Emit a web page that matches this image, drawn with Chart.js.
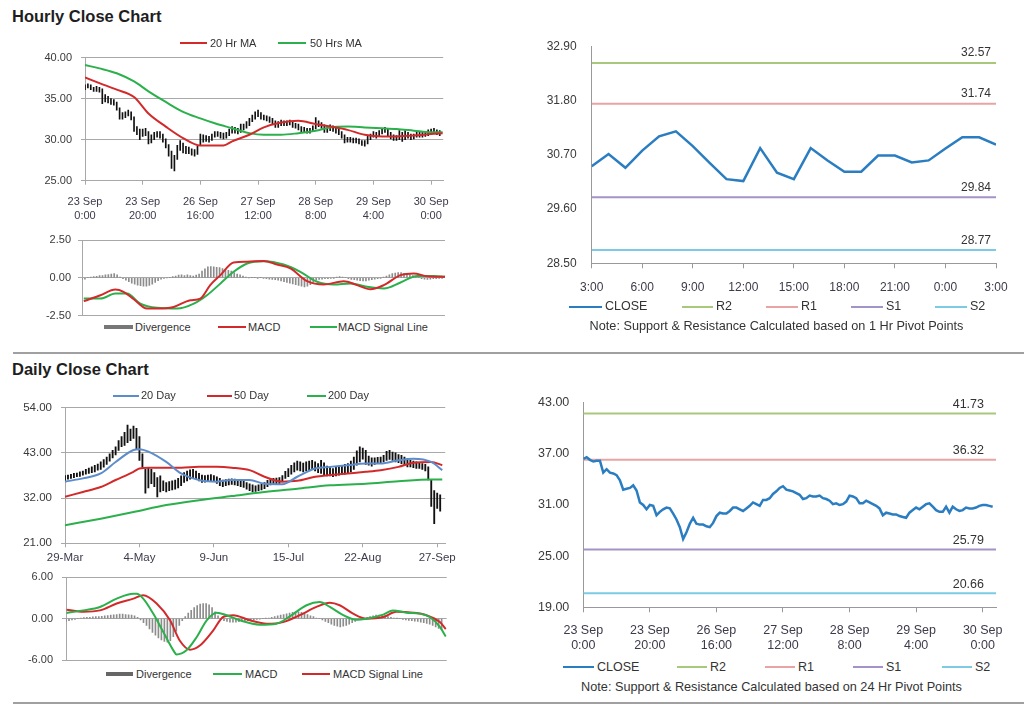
<!DOCTYPE html>
<html><head><meta charset="utf-8">
<script src="https://cdn.jsdelivr.net/npm/chart.js@4.4.0/dist/chart.umd.min.js"></script>
<style>
body{margin:0;background:#fff;width:1024px;height:706px;position:relative;overflow:hidden;font-family:"Liberation Sans",Arial,sans-serif;color:#333}
canvas{position:absolute}
.title{position:absolute;left:12px;font-weight:bold;font-size:16.5px;line-height:20px;color:#1e1e1e;white-space:nowrap}
.sep{position:absolute;left:13px;width:1011px;height:2px;background:#a0a0a0}
.lt{position:absolute;white-space:nowrap;color:#333}
.note{position:absolute;white-space:nowrap;color:#333;font-size:12.7px;line-height:14px;transform:translateX(-50%)}
</style></head><body>
<div class="title" style="top:6px">Hourly Close Chart</div>
<div class="sep" style="top:352px"></div>
<div class="title" style="top:359px">Daily Close Chart</div>
<div class="sep" style="top:702px"></div>
<script>
// ---------- DATA ----------
const hourTickValues = [0,20,40,60,80,100,120];
const hourTickLabels = [["23 Sep","0:00"],["23 Sep","20:00"],["26 Sep","16:00"],["27 Sep","12:00"],["28 Sep","8:00"],["29 Sep","4:00"],["30 Sep","0:00"]];

const hourlyClose = [36.4,36.6,36.3,36.1,36.2,36.2,34.8,35.2,34.8,34.7, 34.5,33.9,32.8,32.9,33.0,33.3,32.7,31.3,31.0,30.5, 31.0,30.9,29.8,30.2,30.5,30.7,30.6,30.0,29.3,28.4, 27.0,27.8,28.8,29.5,28.8,28.7,28.7,28.5,28.4,28.9, 29.7,30.1,30.0,30.0,30.3,30.7,30.7,30.5,30.3,30.6, 30.9,31.3,31.1,30.9,31.6,31.6,31.8,32.3,32.6,33.0, 33.2,32.8,32.7,32.6,32.4,32.2,31.7,31.8,32.1,32.0, 32.0,32.1,31.8,31.7,31.5,31.1,31.2,31.0,31.1,31.4, 32.1,32.0,31.8,31.2,31.2,31.5,31.3,31.1,30.9,30.6, 29.8,30.1,30.0,29.9,29.9,29.7,29.6,29.5,30.1,30.4, 30.7,30.5,30.8,31.1,31.2,30.8,30.4,30.2,30.2,30.8, 30.1,30.8,30.5,30.3,30.4,30.7,30.6,30.6,30.7,30.9, 31.0,31.0,30.9,30.8];
const hourlyHigh = [36.7,36.8,36.7,36.4,36.5,36.4,36.2,35.5,35.3,35.0, 34.9,34.6,33.9,33.3,33.4,33.6,33.4,32.8,31.6,31.3, 31.3,31.4,31.0,30.6,30.9,31.0,31.0,30.7,30.1,29.4, 28.6,28.1,29.3,29.9,29.6,29.2,29.1,28.9,28.8,29.2, 30.7,30.6,30.5,30.4,30.7,31.0,31.0,30.9,30.8,30.9, 31.3,31.6,31.5,31.4,31.9,31.9,32.2,32.6,33.0,33.4, 33.6,33.3,33.0,32.9,32.8,32.6,32.3,32.2,32.4,32.3, 32.3,32.4,32.2,32.0,31.9,31.6,31.5,31.4,31.4,31.7, 32.7,32.3,32.1,31.8,31.6,31.8,31.7,31.5,31.3,31.0, 30.6,30.3,30.3,30.2,30.2,30.1,29.9,29.9,30.4,30.7, 31.0,30.9,31.1,31.4,31.5,31.3,30.9,30.6,30.5,31.1, 30.9,31.1,30.9,30.7,30.7,31.0,30.9,30.9,31.0,31.2, 31.3,31.4,31.2,31.1];
const hourlyLow = [36.1,36.3,36.1,35.9,35.9,35.8,34.4,34.6,34.5,34.3, 34.2,33.6,32.5,32.5,32.7,32.9,32.4,31.0,30.6,30.0, 30.4,30.5,29.5,29.6,30.0,30.3,30.2,29.7,29.0,28.0, 26.5,26.2,27.6,28.7,28.4,28.3,28.3,28.1,28.0,28.2, 29.3,29.7,29.8,29.7,29.9,30.3,30.4,30.2,30.1,30.2, 30.5,30.8,30.8,30.7,30.9,31.2,31.4,31.7,32.2,32.5, 32.8,32.5,32.4,32.3,32.1,31.9,31.5,31.5,31.7,31.7, 31.7,31.8,31.5,31.4,31.2,30.9,30.9,30.8,30.8,31.0, 31.3,31.6,31.4,30.9,30.9,31.1,31.0,30.8,30.6,30.2, 29.6,29.7,29.7,29.6,29.6,29.5,29.3,29.2,29.5,30.0, 30.3,30.2,30.4,30.7,30.9,30.5,30.1,29.9,29.9,30.0, 29.8,30.0,30.2,30.0,30.1,30.3,30.3,30.3,30.4,30.5, 30.7,30.8,30.6,30.5];
const ma20Hr = [[0,37.6],[5,36.9],[11,36.1],[17,35.2],[22,33.2],[28,31.6],[34,30.2],[40,29.3],[48,29.3],[51,29.8],[57,30.6],[62,31.5],[68,32.1],[74,32.3],[80,31.9],[85,31.6],[91,31.2],[97,30.6],[103,30.4],[108,30.4],[114,30.5],[120,30.7],[124,30.8]];
const ma50Hr = [[0,39.1],[5,38.7],[11,38.1],[17,37.1],[22,35.9],[28,34.6],[34,33.4],[40,32.6],[45,32.0],[51,31.4],[57,30.8],[62,30.6],[68,30.6],[74,30.8],[80,31.1],[85,31.5],[91,31.6],[97,31.5],[103,31.4],[108,31.3],[114,31.1],[120,30.9],[124,30.9]];

const hourMacd = [[0.6,-1.54],[6.3,-1.15],[11.4,-0.77],[14.2,-0.92],[17.7,-1.41],[22.2,-2.03],[25.6,-2.03],[31.3,-1.92],[37,-1.48],[40.4,-1.37],[43.8,-0.48],[47.3,0.18],[51.8,1.01],[56.4,1.06],[62.1,1.12],[66.6,0.88],[71.2,0.62],[76.9,-0.22],[82.6,-0.44],[89.4,-0.22],[94,-0.48],[98.5,-0.75],[103.1,-0.48],[108.8,0.18],[113.3,0.29],[117.9,0.11],[124,0.07]];
const hourSignal = [[0.6,-1.37],[6.3,-1.37],[11.4,-1.04],[15.4,-1.04],[19.9,-1.7],[25.6,-1.98],[32.5,-2.03],[38.2,-1.7],[42.7,-1.15],[47.3,-0.37],[51.8,0.4],[56.4,0.95],[62.1,1.1],[68.9,0.88],[74.6,0.4],[80.3,-0.26],[86,-0.44],[91.7,-0.37],[97.4,-0.59],[103.1,-0.70],[108.8,-0.31],[114.5,0.13],[120.2,0.13],[124,0.07]];
const hourDiv = [-0.10,-0.08,0.03,0.05,0.08, 0.10,0.15,0.15,0.20,0.22,0.25,0.28,0.20, 0.05,-0.05, -0.15,-0.25,-0.35,-0.42,-0.48,-0.52,-0.55,-0.55,-0.50,-0.42,-0.30,-0.18,-0.08, -0.03,0.00,0.02, 0.08,0.12,0.18,0.20,0.15,0.20,0.15,0.12,0.18,0.25, 0.45,0.60,0.72,0.75,0.72,0.70,0.68,0.62,0.55,0.50,0.45,0.35,0.25,0.20, 0.12,0.05,0.00,0.02, 0.02,-0.02,0.02,-0.03, -0.05,-0.08,-0.10,-0.12,-0.15,-0.20,-0.25,-0.30,-0.35,-0.40,-0.45,-0.50,-0.55,-0.60,-0.55,-0.45, -0.30,-0.15,-0.10,-0.08,-0.05,-0.05,-0.03,-0.02,0.05,0.08,0.05,0.03, -0.05,-0.10,-0.12,-0.15,-0.18,-0.20,-0.20,-0.15,-0.12,-0.08,-0.05,-0.02,0.05, 0.12,0.20,0.28,0.32,0.35,0.35,0.30,0.25,0.20,0.15, 0.08,0.03,-0.05,-0.08,-0.10,-0.08,-0.05,-0.05,-0.03,-0.02];

const pivotHourTicks = [0,3,6,9,12,15,18,21,24];
const pivotHourLabels = ["3:00","6:00","9:00","12:00","15:00","18:00","21:00","0:00","3:00"];
const pivotHourClose = [30.47,30.72,30.44,30.79,31.08,31.18,30.88,30.54,30.21,30.17,30.84,30.34,30.21,30.84,30.59,30.36,30.36,30.69,30.69,30.55,30.59,30.83,31.06,31.06,30.91];
const pivotHourLevels = {R2:32.57, R1:31.74, S1:29.84, S2:28.77};
const pivotHourYTicks = [28.5,29.6,30.7,31.8,32.9];

const dayTickValues = [0,25,50,75,100,125];
const dayTickLabels = ["29-Mar","4-May","9-Jun","15-Jul","22-Aug","27-Sep"];
const dailyLow = [36.3,36.6,36.8,37.0,37.2,37.3,37.6,37.8,38.0,38.2, 38.4,38.8,39.0,39.5,40.2,41.0,41.8,42.5,43.6,44.5, 44.8,45.5,46.0,46.5,44.0,41.2,39.5,33.2,34.5,35.5, 34.8,32.3,33.5,33.8,33.5,33.8,34.0,34.2,34.5,35.0, 35.8,36.2,36.6,36.8,36.5,36.2,35.8,35.9,36.0,36.2, 36.0,35.6,35.0,34.8,35.0,35.2,35.3,35.2,35.0,34.8, 34.6,34.2,33.8,33.5,33.6,33.8,34.0,34.3,34.8,35.2, 35.4,35.3,35.5,36.0,36.8,37.2,37.8,38.4,38.8,38.6, 38.4,38.6,38.8,39.0,38.6,38.2,38.0,37.6,37.4,37.4, 37.2,37.4,37.6,37.8,37.8,38.0,38.4,39.0,40.0,40.8, 41.5,40.2,40.0,39.8,40.2,40.4,40.6,40.8,41.2,41.4, 41.2,40.8,40.6,40.4,40.0,39.6,39.6,39.4,39.2,39.2, 39.0,38.6,36.4,30.0,25.8,29.5,28.8];
const dailyHigh = [37.5,37.6,37.8,38.0,38.1,38.4,38.6,39.0,39.3,39.6, 40.0,40.3,40.8,41.4,42.0,42.8,43.6,44.5,46.0,47.0, 48.0,49.8,48.8,49.5,49.0,47.0,42.8,39.0,39.4,39.0, 38.2,37.0,37.4,36.2,35.8,36.0,36.2,36.4,36.8,37.4, 38.2,38.6,38.9,39.0,38.6,38.0,37.6,37.5,37.6,37.7, 37.5,37.2,36.8,36.4,36.5,36.6,36.7,36.6,36.4,36.3, 36.2,35.8,35.5,35.2,35.0,35.2,35.4,35.8,36.3,36.6, 36.8,36.9,37.0,37.5,38.5,39.2,40.0,40.6,41.0,40.8, 40.5,40.8,41.0,41.2,40.8,40.4,41.2,40.6,39.8,39.4, 39.2,39.6,39.8,40.0,40.2,40.4,41.0,42.0,43.5,44.5, 44.2,43.6,42.2,41.8,41.8,41.9,42.0,42.4,43.4,43.6, 43.2,43.0,42.6,42.4,42.0,41.6,41.2,41.0,40.8,40.6, 40.4,40.2,39.6,36.5,33.8,33.2,32.8];
const ma20Day = [[0,36],[6,36.8],[12,38],[17,40.8],[23,43.7],[25,43.9],[28,43.3],[34,40.8],[39,38],[45,36.4],[51,36],[56,36.4],[62,36.4],[67,35.5],[73,35.4],[78,37.2],[84,39.2],[89,39.6],[95,40],[101,40.4],[106,40.4],[112,41.2],[117,41.6],[123,40.8],[126.7,38.8]];
const ma50Day = [[0,32.3],[6,33.5],[12,34.7],[17,36.4],[23,38.4],[25,39.2],[28,39.4],[34,39.4],[39,39.4],[45,39.6],[51,39.6],[56,39.4],[62,38.8],[67,37.2],[73,36],[78,36.2],[84,37.2],[89,37.6],[95,38],[101,38.4],[106,38.8],[112,39.6],[117,40.6],[123,40.8],[126.7,40]];
const ma200Day = [[0,25.4],[12,27],[23,28.6],[34,30.3],[45,31.5],[56,32.5],[67,33.5],[78,34.3],[89,35.1],[101,35.5],[112,36.1],[123,36.5],[126.7,36.5]];

const dayMacd = [[0.2,0.83],[5.8,1.2],[11.4,1.7],[17,2.9],[22.6,3.6],[23.7,3.6],[25.9,2.9],[29.3,0.7],[32.6,-1.9],[36,-4.6],[37.1,-5.2],[40.4,-4.6],[43.8,-2.7],[47.2,-0.24],[50.5,0.87],[53.9,0.5],[58.3,-0.24],[65,-0.87],[70.6,-0.73],[75.1,0.34],[80.7,1.94],[85.1,2.4],[88.5,1.7],[93,0.5],[97.4,-0.15],[100.8,0],[106.4,0.58],[109.7,1.2],[114.2,0.87],[118.7,0.73],[122,0.24],[125.4,-1.2],[127.4,-2.6]];
const daySignal = [[0.2,1.3],[5.8,1.0],[11.4,1.2],[17,2.2],[22.6,2.9],[25.9,3.4],[30.4,2.2],[34.9,-0.24],[38.2,-3.2],[41.6,-4.5],[44.9,-3.9],[49.4,-1.7],[52.7,0.24],[56.1,0.5],[61.7,-0.24],[67.3,-0.73],[72.8,-0.5],[78.4,0.5],[84,1.7],[88.5,2.3],[91.8,1.94],[96.3,0.73],[100.8,0],[106.4,0.24],[110.8,1.0],[116.4,0.87],[120.9,0.5],[125.4,-0.5],[127.4,-1.5]];
const dayDiv = [-0.4,-0.3,-0.2,-0.1,0.0, 0.1,0.15,0.2,0.2,0.25,0.3,0.3,0.35,0.4,0.45,0.5,0.55,0.6,0.65,0.65,0.6,0.55,0.5,0.4,0.2, -0.2,-0.6,-1.0,-1.5,-2.0,-2.4,-2.8,-3.1,-3.3,-3.4,-3.2,-2.6,-1.8,-1.0,-0.3,0.3, 0.8,1.2,1.6,1.9,2.1,2.2,2.2,2.0,1.6,1.0,0.4, -0.1,-0.3,-0.4,-0.5,-0.5,-0.5,-0.45,-0.4,-0.35,-0.3,-0.25,-0.2,-0.1,-0.05,0.0,0.05,0.1,0.2,0.3,0.4, 0.5,0.6,0.7,0.8,0.9,1.0,1.0,0.9,0.8,0.6,0.4,0.3,0.1,0.0, -0.2,-0.4,-0.6,-0.8,-1.0,-1.1,-1.2,-1.1,-1.0,-0.8,-0.6,-0.4,-0.2,-0.1, 0.1,0.2,0.3,0.4,0.5,0.5,0.5,0.4,0.3,0.2,0.1,0.05,0.0, -0.1,-0.2,-0.25,-0.3,-0.35,-0.4,-0.5,-0.6,-0.7,-0.8,-1.0,-1.2,-1.4,-1.6];

const pivotDayLevels = {R2:41.73, R1:36.32, S1:25.79, S2:20.66};
const pivotDayYTicks = [19,25,31,37,43];

// ---------- STYLE ----------
const RED='#d22a2a', GREEN='#2bb04c', BLUE20='#5c8ccc', CLOSEBLUE='#2a7dc0', GRAY='#8c8c8c', GRID='#a8a8a8';
const LVL={R2:'#a8c87c', R1:'#e8a4a4', S1:'#a493c6', S2:'#7ccae4'};
Chart.defaults.font.family='"Liberation Sans", Arial, sans-serif';
Chart.defaults.color='#3a3a3a';

const fixedTicks = vals => s => { s.ticks = vals.map(v=>({value:v})); };
const pts = arr => arr.map(p=>({x:p[0],y:p[1]}));
const seq = arr => arr.map((v,i)=>({x:i,y:v}));
const lineDs = (data,color,w) => ({type:'line',data,borderColor:color,borderWidth:w||2,pointRadius:0,cubicInterpolationMode:'monotone',fill:false});

const levelLabels = {id:'levelLabels', afterDatasetsDraw(chart,args,o){
  if(!o||!o.items) return; const {ctx,chartArea}=chart, y=chart.scales.y;
  ctx.save(); ctx.font=o.font; ctx.fillStyle='#333'; ctx.textAlign='right'; ctx.textBaseline='alphabetic';
  o.items.forEach(v=>ctx.fillText(v.toFixed(2), chartArea.right-o.dx, y.getPixelForValue(v)-o.dy));
  ctx.restore();
}};

function make(left,top,w,h,cfg){
  const c=document.createElement('canvas'); c.width=w; c.height=h;
  c.style.left=left+'px'; c.style.top=top+'px'; c.style.width=w+'px'; c.style.height=h+'px';
  document.body.appendChild(c);
  cfg.options.responsive=false; cfg.options.animation=false; cfg.options.devicePixelRatio=1;
  cfg.options.plugins=Object.assign({legend:{display:false},tooltip:{enabled:false}},cfg.options.plugins||{});
  return new Chart(c,cfg);
}
function legend(y,fs,items){
  items.forEach(it=>{
    const ln=document.createElement('div');
    ln.style.cssText=`position:absolute;left:${it[0]}px;top:${Math.round(y-it[3]/2)}px;width:${it[1]}px;height:${it[3]}px;background:${it[2]}`;
    document.body.appendChild(ln);
    const tx=document.createElement('div'); tx.className='lt';
    const L=Math.round(fs*1.2);
    tx.style.cssText=`left:${it[4]}px;top:${y-L/2}px;font-size:${fs}px;line-height:${L}px`;
    tx.textContent=it[5]; document.body.appendChild(tx);
  });
}
function note(x,y,text){const d=document.createElement('div');d.className='note';d.style.left=x+'px';d.style.top=(y-7)+'px';d.textContent=text;document.body.appendChild(d);}

const yAxis = (min,max,ticks,width,pad,fs,gridOn) => ({min,max,
  afterFit:s=>{s.width=width; s.paddingTop=0; s.paddingBottom=0;},afterBuildTicks:fixedTicks(ticks),
  grid:{display:true,drawOnChartArea:gridOn,drawTicks:gridOn,tickLength:4,color:GRID},border:{color:GRID},
  ticks:{padding:pad,font:{size:fs},color:'#3a3a3a',callback:v=>v.toFixed(2)}});

// ---------- CHART 1: hourly price ----------
make(0,48,460,175,{type:'bar',data:{datasets:[
  lineDs(pts(ma20Hr),RED), lineDs(pts(ma50Hr),GREEN),
  {type:'bar',data:hourlyLow.map((l,i)=>({x:i,y:[l,hourlyHigh[i]]})),backgroundColor:'#111',barThickness:1}
]},options:{layout:{padding:{top:9.7,right:14,left:0,bottom:0}},scales:{
  x:{type:'linear',min:0,max:124.2,offset:false,afterFit:s=>{s.height=42.3;},afterBuildTicks:fixedTicks(hourTickValues),
     grid:{drawOnChartArea:false,tickLength:4,color:GRID,offset:false},border:{color:GRID},
     ticks:{autoSkip:false,maxRotation:0,padding:11,font:{size:11,lineHeight:1.2},color:'#3d3a4a',callback:(v,i)=>hourTickLabels[i]}},
  y:yAxis(25,40,[25,30,35,40],85,9,11,true)
}}});
legend(43,11,[[180,27,RED,2,210,'20 Hr MA'],[278,28,GREEN,2,310,'50 Hrs MA']]);

// ---------- CHART 2: hourly MACD ----------
make(0,230,460,90,{type:'bar',data:{datasets:[
  lineDs(pts(hourMacd),RED), lineDs(pts(hourSignal),GREEN),
  {type:'bar',data:seq(hourDiv),backgroundColor:GRAY,barThickness:1}
]},options:{layout:{padding:{top:10,right:15,left:0,bottom:4.3}},scales:{
  x:{type:'linear',min:0,max:124,offset:false,display:false},
  y:yAxis(-2.5,2.5,[-2.5,0,2.5],82,7,11,true)
}}});
legend(327,11,[[104,29,'#777',4,135,'Divergence'],[218,28,RED,2,248,'MACD'],[310,27,GREEN,2,338,'MACD Signal Line']]);

// ---------- CHART 3: hourly pivot ----------
function levelSets(levels,xmax){return ['R2','R1','S1','S2'].map(k=>({type:'line',data:[{x:0,y:levels[k]},{x:xmax,y:levels[k]}],borderColor:LVL[k],borderWidth:2,pointRadius:0}));}
make(500,36,520,265,{type:'line',data:{datasets:[
  {type:'line',data:seq(pivotHourClose),borderColor:CLOSEBLUE,borderWidth:2.5,pointRadius:0,tension:0},
  ...levelSets(pivotHourLevels,24)
]},options:{layout:{padding:{top:10.7,right:24,left:0,bottom:0}},
  plugins:{levelLabels:{items:Object.values(pivotHourLevels),font:'12px "Liberation Sans", Arial',dx:5,dy:6.5}},
  scales:{
  x:{type:'linear',min:0,max:24,offset:false,afterFit:s=>{s.height=37.7;},afterBuildTicks:fixedTicks(pivotHourTicks),
     grid:{drawOnChartArea:false,tickLength:5,color:'#999'},border:{color:'#999'},
     ticks:{autoSkip:false,maxRotation:0,padding:12,font:{size:12},color:'#3d3a4a',callback:(v,i)=>pivotHourLabels[i]}},
  y:Object.assign(yAxis(28.5,32.9,pivotHourYTicks,91.7,15,12,false),{border:{color:'#999'}})
}},plugins:[levelLabels]});
legend(306.7,12.5,[[569,33,CLOSEBLUE,2,605,'CLOSE'],[682,31,LVL.R2,2,716,'R2'],[766,32,LVL.R1,2,801,'R1'],[851,32,LVL.S1,2,886,'S1'],[935,32,LVL.S2,2,970,'S2']]);
note(776.5,325.7,'Note: Support & Resistance Calculated based on 1 Hr Pivot Points');

// ---------- CHART 5: daily price ----------
make(0,398,460,170,{type:'bar',data:{datasets:[
  lineDs(pts(ma20Day),BLUE20), lineDs(pts(ma50Day),RED), lineDs(pts(ma200Day),GREEN),
  {type:'bar',data:dailyLow.map((l,i)=>({x:i,y:[l,dailyHigh[i]]})),backgroundColor:'#111',barThickness:1.2}
]},options:{layout:{padding:{top:9.7,right:12,left:0,bottom:0}},scales:{
  x:{type:'linear',min:0,max:127.7,offset:false,afterFit:s=>{s.height=24.7;},afterBuildTicks:fixedTicks(dayTickValues),
     grid:{drawOnChartArea:false,tickLength:4,color:GRID,offset:false},border:{color:GRID},
     ticks:{autoSkip:false,maxRotation:0,padding:4,font:{size:11.5},color:'#3d3a4a',callback:(v,i)=>dayTickLabels[i]}},
  y:yAxis(21,54,[21,32,43,54],65,9,11.5,true)
}}});
legend(395.7,11,[[113,26,BLUE20,2,141,'20 Day'],[207,25,RED,2,234,'50 Day'],[307,19,GREEN,2,328,'200 Day']]);

// ---------- CHART 6: daily MACD ----------
make(0,568,460,97,{type:'bar',data:{datasets:[
  lineDs(pts(dayMacd),GREEN), lineDs(pts(daySignal),RED),
  {type:'bar',data:seq(dayDiv),backgroundColor:GRAY,barThickness:1}
]},options:{layout:{padding:{top:9.3,right:13.3,left:0,bottom:5}},scales:{
  x:{type:'linear',min:0,max:127.7,offset:false,display:false},
  y:yAxis(-6,6,[-6,0,6],66,9,11,true)
}}});
legend(674.3,11,[[106,27,'#666',4,136,'Divergence'],[213,29,GREEN,2,245,'MACD'],[302,28,RED,2,333,'MACD Signal Line']]);

// ---------- CHART 7: daily pivot ----------
make(500,392,520,260,{type:'line',data:{datasets:[
  {type:'line',data:seq(hourlyClose),borderColor:CLOSEBLUE,borderWidth:2.5,pointRadius:0,tension:0},
  ...levelSets(pivotDayLevels,124)
]},options:{layout:{padding:{top:10.7,right:24,left:0,bottom:0}},
  plugins:{levelLabels:{items:Object.values(pivotDayLevels),font:'12.5px "Liberation Sans", Arial',dx:12,dy:5.3}},
  scales:{
  x:{type:'linear',min:0,max:124,offset:false,afterFit:s=>{s.height=44.7;},afterBuildTicks:fixedTicks(hourTickValues),
     grid:{drawOnChartArea:false,tickLength:5,color:'#999'},border:{color:'#999'},
     ticks:{autoSkip:false,maxRotation:0,padding:11,font:{size:12.5,lineHeight:1.2},color:'#3d3a4a',callback:(v,i)=>hourTickLabels[i]}},
  y:Object.assign(yAxis(19,43,pivotDayYTicks,83.3,14,12.5,false),{border:{color:'#999'}})
}},plugins:[levelLabels]});
legend(667.3,12.5,[[563,31,CLOSEBLUE,2,597,'CLOSE'],[677,30,LVL.R2,2,710,'R2'],[765,30,LVL.R1,2,798,'R1'],[853,30,LVL.S1,2,886,'S1'],[942,30,LVL.S2,2,975,'S2']]);
note(771.5,686.7,'Note: Support & Resistance Calculated based on 24 Hr Pivot Points');
</script>
</body></html>
